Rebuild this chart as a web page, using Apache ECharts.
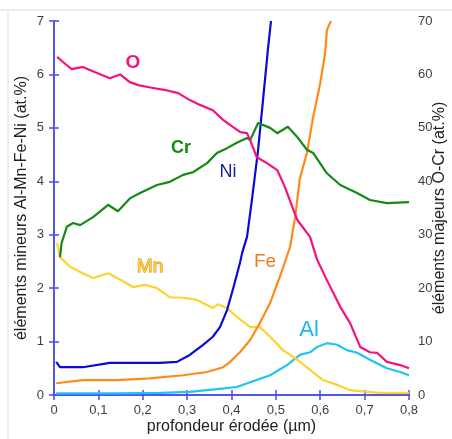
<!DOCTYPE html>
<html><head><meta charset="utf-8">
<script src="https://cdn.jsdelivr.net/npm/echarts@6/dist/echarts.min.js"></script>
<style>html,body{margin:0;padding:0;background:#fff}#c{width:452px;height:439px}</style>
</head><body><div id="c"></div>
<script>
// Depth ticks
const xTicks = [0,0.1,0.2,0.3,0.4,0.5,0.6,0.7,0.8];
// O (right axis, at.%)
const oDepth = [0.007,0.025,0.04,0.065,0.09,0.126,0.149,0.17,0.19,0.22,0.255,0.28,0.306,0.329,0.358,0.381,0.403,0.42,0.435,0.442,0.457,0.48,0.503,0.52,0.548,0.577,0.593,0.615,0.645,0.667,0.69,0.712,0.728,0.75,0.78,0.8];
const oVal   = [63.3,62,61,61.4,60.5,59.3,60,58.6,58,57.5,57,56.5,55.2,54.3,53.3,51.5,50.2,49.2,49,47.7,44.5,43.4,42.1,39,32.8,29.6,25.3,21.5,16.5,13.5,9,8,7.9,6.2,5.6,5];
// Cr (right axis)
const crDepth = [0.0135,0.017,0.029,0.043,0.059,0.088,0.122,0.144,0.171,0.194,0.232,0.261,0.291,0.313,0.345,0.367,0.39,0.412,0.435,0.442,0.46,0.487,0.503,0.527,0.548,0.57,0.584,0.615,0.645,0.683,0.712,0.75,0.8];
const crVal   = [25.8,28.4,31.5,32.2,31.8,33.3,35.6,34.4,36.8,37.8,39.3,39.9,41.2,41.7,43.4,45.3,46.2,47.2,48.1,47.7,50.9,50,49,50.2,48.3,45.9,45.3,41.5,39.3,37.8,36.5,35.9,36.1];
// Ni (left axis)
const niDepth = [0.005,0.0135,0.065,0.126,0.187,0.239,0.277,0.306,0.336,0.358,0.374,0.39,0.403,0.419,0.424,0.435,0.442,0.446,0.46,0.471,0.482,0.489];
const niVal   = [0.62,0.52,0.52,0.6,0.6,0.6,0.62,0.75,0.94,1.09,1.27,1.59,1.97,2.47,2.66,2.96,3.4,3.65,4.59,5.52,6.46,7.0];
// Fe (left axis)
const feDepth = [0.005,0.065,0.142,0.216,0.291,0.345,0.381,0.397,0.419,0.442,0.464,0.487,0.498,0.509,0.532,0.543,0.554,0.57,0.584,0.6,0.611,0.615,0.624];
const feVal   = [0.22,0.28,0.28,0.31,0.37,0.43,0.52,0.62,0.8,1.03,1.35,1.72,1.97,2.21,2.77,3.3,4.05,4.53,5.2,5.84,6.4,6.83,7.0];
// Mn (left axis)
const mnDepth = [0.007,0.0135,0.036,0.065,0.088,0.122,0.142,0.178,0.205,0.232,0.261,0.291,0.322,0.358,0.37,0.39,0.412,0.442,0.464,0.487,0.516,0.548,0.577,0.606,0.638,0.667,0.705,0.735,0.8];
const mnVal   = [2.84,2.58,2.4,2.28,2.19,2.28,2.19,2.02,2.06,2.0,1.83,1.82,1.78,1.63,1.7,1.63,1.46,1.27,1.27,1.09,0.84,0.66,0.47,0.28,0.19,0.09,0.06,0.04,0.04];
// Al (left axis)
const alDepth = [0.005,0.142,0.239,0.306,0.367,0.412,0.442,0.487,0.525,0.554,0.577,0.593,0.615,0.638,0.66,0.683,0.712,0.75,0.78,0.8];
const alVal   = [0.03,0.03,0.04,0.06,0.11,0.15,0.24,0.37,0.56,0.75,0.8,0.9,0.97,0.94,0.84,0.79,0.66,0.5,0.43,0.37];

const zip = (a,b) => a.map((v,i)=>[v,b[i]]);
const axisBlue = '#4a4af0';
const lab = {color:'#404040', fontSize:13, fontFamily:'Liberation Sans, Arial'};
const fmtX = v => v===0 ? '0' : v.toFixed(1).replace('.', ',');

const chart = echarts.init(document.getElementById('c'));
chart.setOption({
  animation:false,
  grid:{left:54, right:43, top:21, bottom:44, outerBoundsMode:'none', containLabel:false},
  xAxis:[
    {type:'value', min:0, max:0.8, interval:0.1, position:'bottom',
     axisLine:{lineStyle:{color:axisBlue, width:1.5}},
     axisTick:{inside:true, length:5, lineStyle:{color:axisBlue, width:1.5}},
     axisLabel:Object.assign({margin:9, formatter:fmtX}, lab),
     splitLine:{show:false},
     name:'profondeur érodée (µm)', nameLocation:'middle', nameGap:24, nameMoveOverlap:false,
     nameTextStyle:{color:'#222', fontSize:16, fontFamily:'Liberation Sans, Arial'}},
    {type:'value', min:0, max:0.8, interval:0.1, position:'top',
     axisLine:{lineStyle:{color:axisBlue, width:1.5}},
     axisTick:{inside:true, length:5, lineStyle:{color:axisBlue, width:1.5}},
     axisLabel:{show:false}, splitLine:{show:false}}
  ],
  yAxis:[
    {type:'value', min:0, max:7, interval:1, position:'left',
     axisLine:{show:true, lineStyle:{color:axisBlue, width:1.5}},
     axisTick:{show:true, inside:true, length:5, lineStyle:{color:axisBlue, width:1.5}},
     axisLabel:Object.assign({margin:10}, lab),
     splitLine:{show:false},
     name:'éléments mineurs Al-Mn-Fe-Ni (at.%)', nameLocation:'middle', nameGap:32, nameRotate:90, nameMoveOverlap:false,
     nameTextStyle:{color:'#222', fontSize:16, fontFamily:'Liberation Sans, Arial', verticalAlign:'middle'}},
    {type:'value', min:0, max:70, interval:10, position:'right',
     axisLine:{show:true, lineStyle:{color:axisBlue, width:1.5}},
     axisTick:{show:true, inside:true, length:5, lineStyle:{color:axisBlue, width:1.5}},
     axisLabel:Object.assign({margin:9}, lab),
     splitLine:{show:false},
     name:'éléments majeurs O-Cr (at.%)', nameLocation:'middle', nameGap:31, nameRotate:90, nameMoveOverlap:false,
     nameTextStyle:{color:'#222', fontSize:16, fontFamily:'Liberation Sans, Arial', verticalAlign:'middle'}}
  ],
  series:[
    {name:'Al', type:'line', yAxisIndex:0, data:zip(alDepth,alVal), showSymbol:false, lineStyle:{color:'#1ec4f2', width:2.2}},
    {name:'Mn', type:'line', yAxisIndex:0, data:zip(mnDepth,mnVal), showSymbol:false, lineStyle:{color:'#fdd32e', width:2.2}},
    {name:'Fe', type:'line', yAxisIndex:0, data:zip(feDepth,feVal), showSymbol:false, lineStyle:{color:'#ff8a1c', width:2.2}},
    {name:'Ni', type:'line', yAxisIndex:0, data:zip(niDepth,niVal), showSymbol:false, lineStyle:{color:'#0a0ad8', width:2.2}},
    {name:'Cr', type:'line', yAxisIndex:1, data:zip(crDepth,crVal), showSymbol:false, lineStyle:{color:'#138a13', width:2.2}},
    {name:'O', type:'line', yAxisIndex:1, data:zip(oDepth,oVal), showSymbol:false, lineStyle:{color:'#f5127f', width:2.2}}
  ],
  graphic:[
    {type:'line', shape:{x1:0,y1:10,x2:452,y2:10}, style:{stroke:'#dcdcdc', lineWidth:1}},
    {type:'line', shape:{x1:8,y1:10,x2:8,y2:439}, style:{stroke:'#dcdcdc', lineWidth:1}},
    {type:'text', x:133, y:63, style:{text:'O', fill:'#f5127f', font:'bold 19px Liberation Sans, Arial', align:'center', verticalAlign:'middle'}},
    {type:'text', x:181, y:148, style:{text:'Cr', fill:'#138a13', font:'bold 18px Liberation Sans, Arial', align:'center', verticalAlign:'middle'}},
    {type:'text', x:228, y:172, style:{text:'Ni', fill:'#1a1aa8', font:'18px Liberation Sans, Arial', align:'center', verticalAlign:'middle'}},
    {type:'text', x:150, y:267, style:{text:'Mn', fill:'#fdd32e', stroke:'#e07a20', lineWidth:1, font:'19px Liberation Sans, Arial', align:'center', verticalAlign:'middle'}},
    {type:'text', x:265, y:262, style:{text:'Fe', fill:'#f07a20', font:'19px Liberation Sans, Arial', align:'center', verticalAlign:'middle'}},
    {type:'text', x:309, y:330, style:{text:'Al', fill:'#1eb6ee', font:'22px Liberation Sans, Arial', align:'center', verticalAlign:'middle'}}
  ]
});
</script></body></html>
